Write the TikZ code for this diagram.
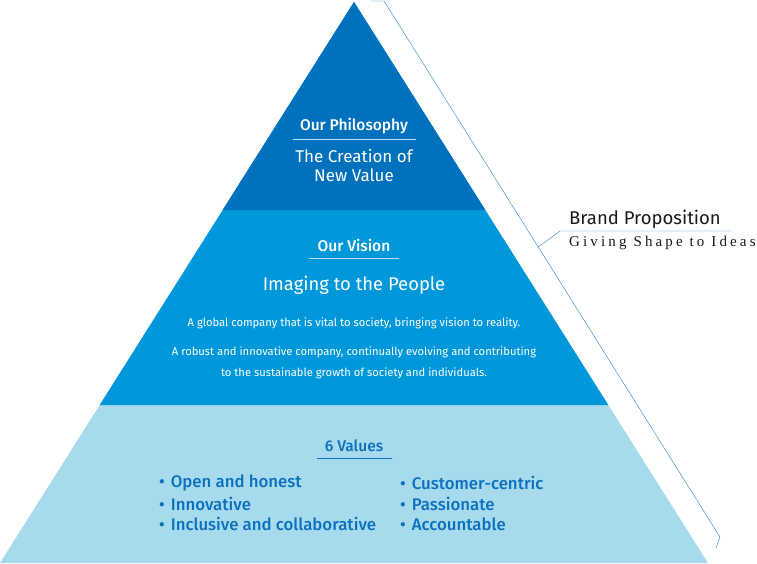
\documentclass[tikz,border=0pt]{standalone}
\usepackage{fontspec}
\setmainfont{Fira Sans}[BoldFont={Fira Sans Medium}]
\newfontfamily\tagfont[LetterSpace=21]{Liberation Serif}
\definecolor{tiertop}{HTML}{0071BC}
\definecolor{tiermid}{HTML}{0098DA}
\definecolor{tierlow}{HTML}{A7DAED}
\definecolor{valueblue}{HTML}{0A72BE}
\definecolor{rulelight}{HTML}{B5DDF3}
\definecolor{brandline}{HTML}{2A7CC6}
\begin{document}
\begin{tikzpicture}[x=1pt,y=-1pt,line join=round,line cap=round]
            \tikzset{head/.style={font=\bfseries\fontsize{15.5}{18}\selectfont,text=white,inner sep=0pt},
                     motto/.style={font=\fontsize{17}{19}\selectfont,text=white,inner sep=0pt,align=center},
                     body/.style={font=\fontsize{11.2}{13}\selectfont,text=white,inner sep=0pt},
                     item/.style={font=\bfseries\fontsize{16.8}{19}\selectfont,text=valueblue,inner sep=0pt,anchor=west}}
            \def \apx{354}
            \def \midy{210}
            \def \lowy{405}
            \useasboundingbox (0,0) rectangle (757,564);
            % the three tiers
            \coordinate (apex) at (\apx,2);
            \path[fill=tierlow] (apex)--(0,563)--(708,563)--cycle;
            \path[fill=tiermid] (apex)--(99.7,\lowy)--(608.3,\lowy)--cycle;
            \path[fill=tiertop] (apex)--(222.7,\midy)--(485.3,\midy)--cycle;
            % philosophy
            \node[head] (philo) at (\apx,126) {Our Philosophy};
            \draw[rulelight,thin] (293,139)--(416,139);
            \node[motto] (value) at (\apx,165.5) {The Creation of\\New Value};
            % vision
            \node[head] (vision) at (\apx,245) {Our Vision};
            \draw[rulelight,thin] (309,258)--(399,258);
            \node[motto,font=\fontsize{18.4}{20}\selectfont] (people) at (\apx,285) {Imaging to the People};
            \node[body] (global) at (\apx,323) {A global company that is vital to society, bringing vision to reality.};
            \node[body] (robust) at (\apx,352) {A robust and innovative company, continually evolving and contributing};
            \node[body] (growth) at (\apx,373) {to the sustainable growth of society and individuals.};
            % values
            \node[head,text=valueblue] (six) at (\apx,446) {6 Values};
            \draw[valueblue,thin] (317,458)--(392,458);
            \foreach \t [count=\i] in {Open and honest,Innovative,Inclusive and collaborative}
            \node[item] (l\i) at (159,462.5+20.5*\i) {•\hspace{6pt}\t};
            \foreach \t [count=\i] in {Customer-centric,Passionate,Accountable}
            \node[item] (r\i) at (400,462.5+20.5*\i) {•\hspace{6pt}\t};
            % brand bracket
            \coordinate (b0) at (371,1);
            \coordinate (b1) at (384,1);
            \coordinate (b2) at (720,537);
            \coordinate (b3) at (716,548);
            \coordinate (bp) at (538.2,247);
            \coordinate (bk) at (560,231);
            \coordinate (be) at (731,231);
            \draw[brandline,thin] (b0)--(b1)--(b2)--(b3);
            \draw[brandline,thin] (bp)--(bk)--(be);
            \node[font=\fontsize{18.5}{21}\selectfont,text=black!90,inner sep=0pt,anchor=west] (brand) at (569,219) {Brand Proposition};
            \node[font=\tagfont\fontsize{15}{17}\selectfont,text=black!90,inner sep=0pt,anchor=west] (idea) at (569,243) {Giving Shape to Ideas};
        \end{tikzpicture}
\end{document}
